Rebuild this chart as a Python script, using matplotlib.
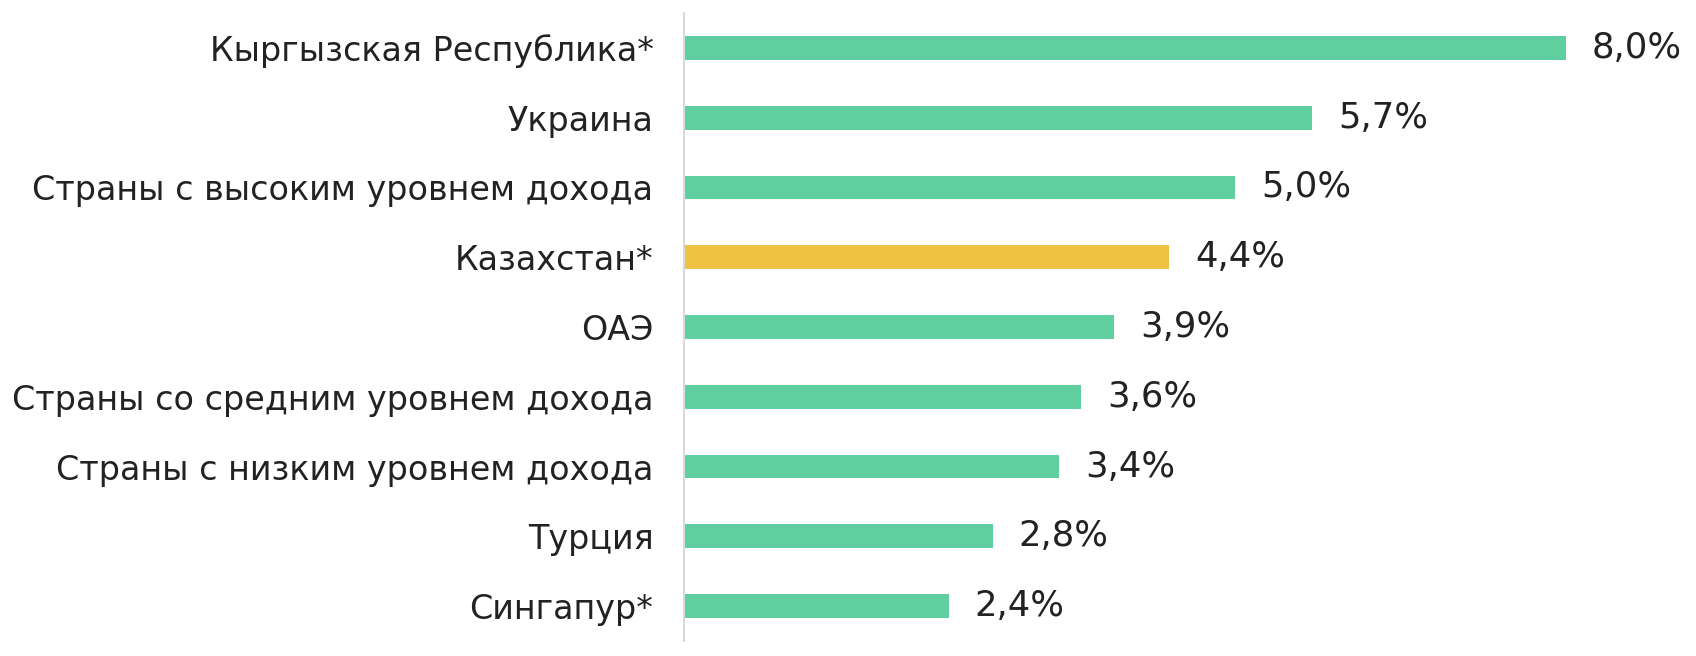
import matplotlib
matplotlib.use("Agg")
import matplotlib.pyplot as plt

categories = [
    "Кыргызская Республика*",
    "Украина",
    "Страны с высоким уровнем дохода",
    "Казахстан*",
    "ОАЭ",
    "Страны со средним уровнем дохода",
    "Страны с низким уровнем дохода",
    "Турция",
    "Сингапур*",
]
values = [8.0, 5.7, 5.0, 4.4, 3.9, 3.6, 3.4, 2.8, 2.4]
value_labels = ["8,0%", "5,7%", "5,0%", "4,4%", "3,9%", "3,6%", "3,4%", "2,8%", "2,4%"]
highlight = "Казахстан*"

GREEN = "#5fcf9f"
YELLOW = "#f0c244"
TEXT = "#222222"

plt.rcParams['font.family'] = ['DejaVu Sans']

fig = plt.figure(figsize=(16.96, 6.56), dpi=100)
ax = fig.add_axes([684/1696, 1 - 641/656, 1 - 684/1696, 628/656])

ypos = list(range(len(categories)))
colors = [YELLOW if c == highlight else GREEN for c in categories]
ax.barh(ypos, values, height=0.34, color=colors, edgecolor="none")

ax.set_ylim(len(categories) - 0.5, -0.5)
ax.set_xlim(0, (1696 - 684) / 110.25)

ax.set_yticks(ypos)
ax.set_yticklabels(categories, fontsize=24, color=TEXT)
ax.tick_params(axis='y', length=0, pad=22)
ax.set_xticks([])

for y, v, lab in zip(ypos, values, value_labels):
    ax.annotate(lab, xy=(v, y), xytext=(26, 0), textcoords="offset pixels",
                va="center", ha="left", fontsize=25.5, color=TEXT)

for s in ["top", "right", "bottom"]:
    ax.spines[s].set_visible(False)
ax.spines["left"].set_color("#d9d9d9")
ax.spines["left"].set_linewidth(1.5)

fig.savefig("out.png", dpi=100, facecolor="white")
